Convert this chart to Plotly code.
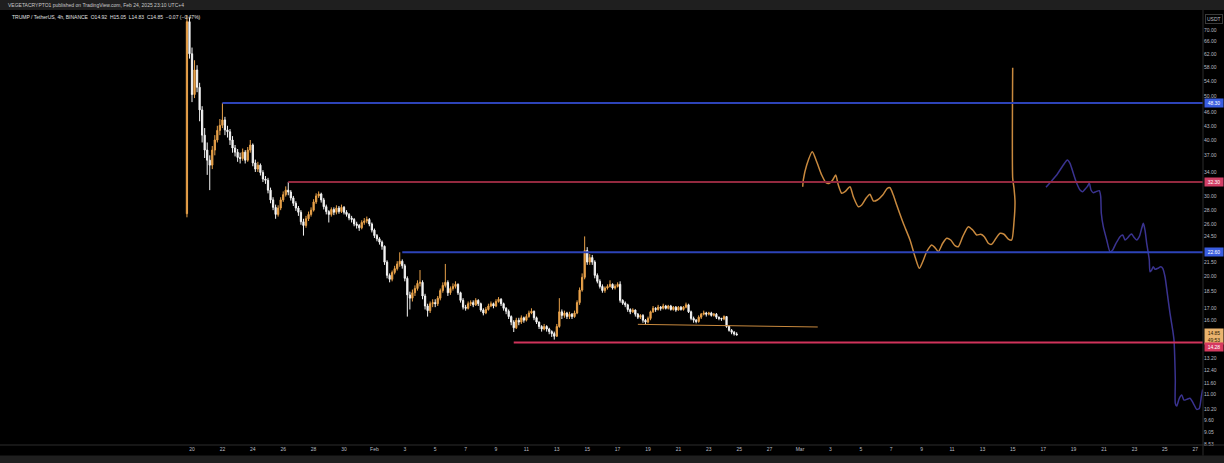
import math
import pandas as pd
import plotly.graph_objects as go

# ---------------- data ----------------
candle_start = "2025-01-19 16:00"   # first 4h candle (UTC+4)
first_open = 27.5
close = [73.0, 62.0, 50.4, 57.1, 52.3, 46.6, 41.0, 38.0,
         36.1, 35.2, 38.0, 40.0, 42.0, 43.1, 44.3, 42.1,
         41.7, 40.0, 38.4, 37.6, 36.6, 36.4, 37.6, 36.1,
         38.0, 39.0, 35.6, 34.5, 35.2, 33.9, 32.8, 32.6,
         31.0, 29.5, 28.4, 27.4, 28.3, 29.5, 30.3, 31.0,
         30.7, 29.8, 29.0, 28.3, 27.7, 26.4, 25.9, 26.8,
         27.4, 28.0, 29.2, 30.1, 30.4, 29.5, 28.5, 27.8,
         27.4, 28.1, 27.7, 28.3, 27.8, 28.4, 27.7, 27.4,
         26.9, 26.7, 26.1, 25.9, 25.6, 26.3, 26.5, 26.7,
         26.1, 25.3, 24.6, 24.2, 23.8, 23.3, 21.5, 20.1,
         19.7, 20.4, 20.8, 21.3, 21.6, 21.1, 19.8, 18.2,
         17.9, 18.4, 18.8, 19.3, 19.4, 18.1, 17.2, 16.8,
         17.4, 17.5, 17.4, 17.9, 18.6, 19.1, 19.4, 18.4,
         18.8, 19.0, 19.2, 18.4, 17.7, 17.1, 17.0, 17.4,
         17.5, 17.3, 17.7, 17.4, 16.85, 16.6, 16.9, 17.2,
         17.4, 17.2, 17.6, 17.8, 17.4, 17.0, 16.75, 16.3,
         15.85, 15.4, 16.0, 15.85, 16.2, 16.0, 16.3, 16.6,
         16.75, 16.2, 15.85, 15.5, 15.3, 15.5, 15.3, 15.1,
         14.95, 14.75, 15.5, 16.7, 16.4, 16.6, 16.3, 16.5,
         16.3, 16.6, 17.5, 18.65, 19.9, 22.8, 21.5, 22.0,
         21.5, 20.1, 19.5, 19.0, 18.6, 18.85, 19.0, 19.2,
         18.85, 19.0, 19.2, 17.7, 17.45, 17.3, 16.9, 16.7,
         16.85, 16.5, 16.25, 16.4, 16.0, 15.85, 16.15, 16.7,
         17.0, 16.9, 17.1, 17.0, 17.2, 17.0, 17.2, 16.9,
         17.1, 16.85, 17.1, 16.9, 17.1, 17.3, 16.7, 16.15,
         16.0, 15.9, 16.25, 16.5, 16.6, 16.5, 16.6, 16.4,
         16.5, 16.25, 16.15, 16.1, 16.3, 15.5, 15.2, 15.05,
         14.92, 14.85]
high = [75.5, 74.5, 64.0, 60.0, 58.5, 53.5, 47.5, 42.5,
        39.5, 37.0, 38.8, 41.0, 43.0, 44.5, 48.3, 45.0,
        43.0, 42.3, 40.8, 39.0, 38.2, 37.5, 38.3, 38.0,
        38.6, 40.0, 39.3, 36.2, 35.8, 35.5, 34.3, 33.3,
        33.0, 31.4, 29.9, 28.8, 28.7, 29.9, 30.8, 31.6,
        32.3, 31.0, 30.1, 29.3, 28.6, 28.0, 26.8, 27.2,
        27.8, 28.4, 29.6, 30.5, 30.8, 30.6, 29.8, 28.8,
        28.0, 28.4, 28.4, 28.7, 28.6, 28.8, 28.6, 28.0,
        27.6, 27.2, 26.9, 26.4, 26.1, 26.6, 26.9, 27.1,
        26.9, 26.3, 25.5, 24.8, 24.4, 24.0, 23.4, 21.7,
        20.3, 20.6, 21.1, 21.6, 22.6, 21.8, 21.3, 20.0,
        18.5, 18.7, 19.1, 19.6, 20.65, 19.6, 18.3, 17.4,
        17.6, 17.8, 17.8, 18.1, 18.8, 19.4, 21.3, 19.6,
        19.0, 19.3, 19.5, 19.3, 18.5, 17.9, 17.3, 17.6,
        17.7, 17.7, 17.9, 17.8, 17.5, 17.0, 17.1, 17.4,
        17.6, 17.5, 17.8, 18.0, 17.9, 17.5, 17.1, 16.9,
        16.4, 16.0, 16.2, 16.2, 16.4, 16.3, 16.5, 16.8,
        17.0, 16.8, 16.3, 15.9, 15.6, 15.7, 15.6, 15.4,
        15.2, 15.1, 15.7, 17.9, 16.9, 16.8, 16.7, 16.7,
        16.6, 16.8, 17.7, 18.9, 20.3, 24.5, 23.2, 22.4,
        22.3, 21.7, 20.3, 19.7, 19.2, 19.0, 19.2, 19.6,
        19.3, 19.2, 19.4, 19.5, 17.8, 17.6, 17.4, 17.0,
        17.0, 16.9, 16.6, 16.5, 16.5, 16.1, 16.3, 16.8,
        17.2, 17.1, 17.3, 17.2, 17.4, 17.3, 17.3, 17.3,
        17.2, 17.2, 17.2, 17.2, 17.2, 17.5, 17.4, 16.8,
        16.3, 16.1, 16.4, 16.6, 16.8, 16.7, 16.7, 16.7,
        16.6, 16.6, 16.3, 16.2, 16.4, 16.35, 15.6, 15.3,
        15.15, 15.05]
low = [27.0, 60.5, 48.5, 49.5, 51.0, 44.0, 39.5, 36.5,
       33.5, 31.0, 34.5, 37.0, 39.5, 41.0, 42.5, 41.0,
       40.5, 39.0, 37.5, 36.8, 35.8, 35.5, 36.0, 35.5,
       35.8, 37.5, 35.0, 34.0, 34.0, 33.4, 32.3, 32.0,
       30.5, 29.0, 28.0, 26.8, 27.1, 28.0, 29.2, 30.0,
       30.2, 29.4, 28.6, 27.9, 27.2, 26.0, 24.6, 25.6,
       26.5, 27.1, 27.8, 28.9, 29.8, 29.1, 28.1, 27.4,
       26.3, 27.1, 27.3, 27.4, 27.5, 27.6, 27.4, 27.1,
       26.6, 26.3, 25.8, 25.5, 25.2, 25.4, 26.0, 26.2,
       25.8, 25.0, 24.3, 23.9, 23.5, 22.9, 21.2, 19.8,
       19.4, 19.5, 20.2, 20.6, 21.0, 20.8, 19.5, 16.3,
       16.9, 17.6, 18.1, 18.6, 19.0, 17.8, 16.9, 16.3,
       16.6, 17.1, 17.1, 17.2, 17.7, 18.4, 18.9, 18.1,
       18.2, 18.6, 18.8, 18.2, 17.5, 16.9, 16.8, 16.9,
       17.2, 17.1, 17.2, 17.2, 16.7, 16.4, 16.5, 16.8,
       17.1, 17.0, 17.1, 17.5, 17.2, 16.8, 16.5, 16.1,
       15.6, 15.07, 15.3, 15.6, 15.7, 15.8, 15.9, 16.2,
       16.5, 16.0, 15.7, 15.3, 15.1, 15.2, 15.1, 14.9,
       14.7, 14.5, 14.7, 15.4, 16.1, 16.2, 16.1, 16.1,
       16.1, 16.2, 16.5, 17.3, 18.5, 19.7, 21.2, 21.2,
       21.2, 19.8, 19.3, 18.8, 18.4, 18.4, 18.7, 18.9,
       18.7, 18.7, 18.9, 17.5, 17.3, 17.1, 16.7, 16.5,
       16.6, 16.3, 16.1, 16.1, 15.8, 15.65, 15.75, 16.0,
       16.6, 16.7, 16.8, 16.8, 16.9, 16.9, 16.9, 16.8,
       16.8, 16.7, 16.8, 16.8, 16.8, 17.0, 16.6, 16.0,
       15.8, 15.75, 15.8, 16.1, 16.4, 16.3, 16.4, 16.3,
       16.3, 16.1, 16.0, 15.95, 16.0, 15.4, 15.1, 14.9,
       14.8, 14.83]

# horizontal levels
level_price = [48.30, 32.30, 22.60, 14.28]
level_start = ["2025-01-22 00:00", "2025-01-26 08:00", "2025-02-02 20:00", "2025-02-10 04:00"]

# short trend line under the range
trend_dates = ["2025-02-18 08:00", "2025-03-02 04:00"]
trend_price = [15.67, 15.46]

# projected paths (days after 1 March, price)
orange_days = [0.178, 0.217, 0.441, 0.809, 1.099, 1.428, 1.711, 1.928, 2.151, 2.349,
               2.520, 2.743, 2.961, 3.289, 3.507, 3.836, 4.059, 4.342, 4.605, 4.822,
               5.086, 5.441, 5.743, 5.921, 6.138, 6.362, 6.796, 7.237, 7.566, 7.849,
               8.072, 8.336, 8.664, 8.882, 9.099, 9.388, 9.651, 9.914, 10.197, 10.414,
               10.704, 11.072, 11.362, 11.625, 11.888, 12.125, 12.388, 12.612, 12.895, 13.158,
               13.421, 13.704, 13.928, 14.079, 14.145, 14.079, 13.993, 13.993]
orange_price = [31.55, 32.64, 35.22, 37.69, 35.82, 33.48, 32.20, 32.10, 32.64, 33.48,
                31.82, 30.51, 30.76, 31.55, 29.99, 28.50, 28.74, 29.74, 30.35, 29.34,
                29.48, 30.24, 31.29, 31.38, 30.24, 28.74, 26.19, 24.06, 22.10, 20.83,
                21.54, 22.67, 23.46, 23.14, 22.67, 23.66, 24.27, 24.06, 23.37, 23.25,
                24.47, 25.74, 25.31, 24.68, 24.77, 24.47, 23.66, 23.54, 24.27, 24.89,
                24.77, 24.18, 24.06, 26.40, 29.23, 31.29, 32.92, 57.77]
blue_days = [16.184, 16.447, 16.888, 17.322, 17.586, 17.763, 17.980, 18.204, 18.421, 18.599,
             18.750, 18.901, 19.033, 19.145, 19.296, 19.474, 19.691, 19.783, 19.822, 19.954,
             20.178, 20.395, 20.572, 20.789, 21.053, 21.230, 21.382, 21.533, 21.711, 21.822,
             21.974, 22.151, 22.322, 22.480, 22.586, 22.697, 22.809, 22.914, 22.980, 23.026,
             23.138, 23.243, 23.355, 23.533, 23.730, 23.862, 24.013, 24.164, 24.342, 24.520,
             24.605, 24.651, 24.691, 24.691, 24.783, 24.954, 25.112, 25.263, 25.441, 25.658,
             25.875, 26.099, 26.270, 26.401, 26.493]
blue_price = [31.45, 32.20, 33.48, 35.22, 36.13, 35.53, 33.77, 32.10, 31.02, 30.76,
              31.13, 31.55, 32.10, 31.02, 30.60, 30.76, 30.91, 29.99, 27.56, 25.74,
              24.06, 22.67, 22.87, 23.66, 24.47, 24.68, 24.06, 24.27, 24.68, 24.80,
              24.39, 24.06, 24.47, 25.53, 26.19, 25.31, 23.66, 22.48, 21.73, 20.48,
              20.66, 21.00, 20.73, 20.83, 21.00, 20.83, 19.96, 18.35, 16.57, 15.22,
              14.47, 13.29, 11.81, 10.49, 10.34, 10.76, 10.94, 10.66, 10.70, 10.76,
              10.49, 10.17, 10.22, 10.85, 11.26]

# axis ticks
y_ticks = [70, 66, 62, 58, 54, 50, 46, 43, 40, 37, 34, 30, 28, 26, 24.5,
           21.5, 20, 18.5, 17, 16, 13.2, 12.4, 11.6, 11.0, 10.2, 9.6, 9.05, 8.53]
jan_days = [20, 22, 24, 26, 28, 30]
feb_days = [1, 3, 5, 7, 9, 11, 13, 15, 17, 19, 21, 23, 25, 27]
mar_days = [1, 3, 5, 7, 9, 11, 13, 15, 17, 19, 21, 23, 25, 27]

x_range = ["2025-01-07 08:50", "2025-03-27 12:18"]
y_range = [8.485, 77.46]

# ---------------- build ----------------
times = pd.date_range(candle_start, periods=len(close), freq="4h")
opens = [first_open] + close[:-1]

UP = "#e9a24a"
DOWN = "#f4f4f4"
BLUE_LVL = "#2d43b8"
RED_LVL = "#93293f"
RED_LVL2 = "#d0335b"
ORANGE_PATH = "#c8893e"
BLUE_PATH = "#3a3390"
TXT = "#b8bbc2"
FONT = "Liberation Sans"

fig = go.Figure()
fig.add_trace(go.Candlestick(
    x=times, open=opens, high=high, low=low, close=close,
    increasing=dict(line=dict(color=UP, width=1), fillcolor=UP),
    decreasing=dict(line=dict(color=DOWN, width=1), fillcolor=DOWN),
    whiskerwidth=0, showlegend=False, hoverinfo="skip"))

mar1 = pd.Timestamp("2025-03-01")
orange_x = [mar1 + pd.to_timedelta(d, unit="D") for d in orange_days]
blue_x = [mar1 + pd.to_timedelta(d, unit="D") for d in blue_days]

fig.add_trace(go.Scatter(x=orange_x, y=orange_price, mode="lines",
                         line=dict(color=ORANGE_PATH, width=1.5, shape="spline", smoothing=0.6),
                         showlegend=False, hoverinfo="skip"))
fig.add_trace(go.Scatter(x=blue_x, y=blue_price, mode="lines",
                         line=dict(color=BLUE_PATH, width=1.5, shape="spline", smoothing=0.6),
                         showlegend=False, hoverinfo="skip"))
fig.add_trace(go.Scatter(x=trend_dates, y=trend_price, mode="lines",
                         line=dict(color=ORANGE_PATH, width=1),
                         showlegend=False, hoverinfo="skip"))

level_colors = [BLUE_LVL, RED_LVL, BLUE_LVL, RED_LVL2]
label_bg = ["#3a5de0", "#d23f66", "#3a5de0", "#d6395f"]
shapes = []
annotations = []
for p, s, c in zip(level_price, level_start, level_colors):
    shapes.append(dict(type="line", xref="x", yref="y", x0=s, x1=x_range[1], y0=p, y1=p,
                       line=dict(color=c, width=2), layer="above"))

# header / footer strips and separators (paper coords)
PH = 435.0
PW = 1203.0
shapes.append(dict(type="rect", xref="paper", yref="paper", x0=0, x1=1224 / PW,
                   y0=1, y1=1 + 10 / PH, fillcolor="#1f1f1f", line=dict(width=0), layer="above"))
shapes.append(dict(type="rect", xref="paper", yref="paper", x0=0, x1=1224 / PW,
                   y0=-18 / PH, y1=-10.5 / PH, fillcolor="#1f1f1f", line=dict(width=0), layer="above"))
shapes.append(dict(type="line", xref="paper", yref="paper", x0=0, x1=1224 / PW,
                   y0=0, y1=0, line=dict(color="#2c2c2c", width=1)))
shapes.append(dict(type="line", xref="paper", yref="paper", x0=1, x1=1,
                   y0=-10.5 / PH, y1=1, line=dict(color="#2c2c2c", width=1)))

# axis price labels (annotation y on a log axis is given in log10 units)
label_text = ["48.30", "32.30", "22.60", ""]
for p, t, bg in zip(level_price, label_text, label_bg):
    if t:
        annotations.append(dict(xref="paper", yref="y", x=1, y=math.log10(p), xanchor="left",
                                yanchor="middle", xshift=1, text=t, showarrow=False, bgcolor=bg,
                                borderpad=1, font=dict(size=5, color="#ffffff", family=FONT), width=16))
annotations.append(dict(xref="paper", yref="y", x=1, y=math.log10(close[-1]), xanchor="left",
                        yanchor="middle", xshift=1, yshift=-2, text="14.85<br>49:53", showarrow=False,
                        bgcolor="#eab36e", borderpad=1,
                        font=dict(size=5, color="#2a1a00", family=FONT), width=16))
annotations.append(dict(xref="paper", yref="y", x=1, y=math.log10(level_price[3]), xanchor="left",
                        yanchor="middle", xshift=1, yshift=-4, text="14.28", showarrow=False,
                        bgcolor=label_bg[3], borderpad=1,
                        font=dict(size=5, color="#ffffff", family=FONT), width=16))
annotations.append(dict(xref="paper", yref="paper", x=1, y=1 - 9 / PH, xanchor="left", yanchor="middle",
                        xshift=2, text="USDT", showarrow=False, bordercolor="#3a3a3a", borderwidth=1,
                        borderpad=1, font=dict(size=5, color=TXT, family=FONT)))
annotations.append(dict(xref="paper", yref="paper", x=6 / PW, y=1 + 5 / PH, xanchor="left", yanchor="middle",
                        text="VEGETACRYPTO1 published on TradingView.com, Feb 24, 2025 23:10 UTC+4",
                        showarrow=False, font=dict(size=5, color="#c8c8c8", family=FONT)))
annotations.append(dict(xref="paper", yref="paper", x=10 / PW, y=1 - 7 / PH, xanchor="left", yanchor="middle",
                        text="TRUMP / TetherUS, 4h, BINANCE  O14.92  H15.05  L14.83  C14.85  −0.07 (−0.47%)",
                        showarrow=False, font=dict(size=5, color="#e0e0e0", family=FONT)))

# x ticks
tick_dates, tick_text = [], []
for month, days in (("01", jan_days), ("02", feb_days), ("03", mar_days)):
    for d in days:
        tick_dates.append(f"2025-{month}-{d:02d}")
        tick_text.append({"02": "Feb", "03": "Mar"}.get(month) if d == 1 else str(d))

fig.update_layout(
    width=1224, height=463,
    margin=dict(l=0, r=21, t=10, b=18),
    paper_bgcolor="#000000", plot_bgcolor="#000000",
    shapes=shapes, annotations=annotations,
    showlegend=False,
    xaxis=dict(type="date", range=x_range, rangeslider=dict(visible=False),
               tickvals=tick_dates, ticktext=tick_text, ticks="", showgrid=False,
               zeroline=False, showline=False,
               tickfont=dict(size=5, color=TXT, family=FONT)),
    yaxis=dict(type="log", side="right",
               range=[math.log10(y_range[0]), math.log10(y_range[1])],
               tickvals=y_ticks, ticktext=[f"{v:.2f}" for v in y_ticks], ticks="",
               showgrid=False, zeroline=False, showline=False,
               tickfont=dict(size=5, color=TXT, family=FONT)),
)

fig.write_html("out.html", config={"displayModeBar": False},
               post_script="document.body.style.margin='0';document.body.style.background='#000';")
